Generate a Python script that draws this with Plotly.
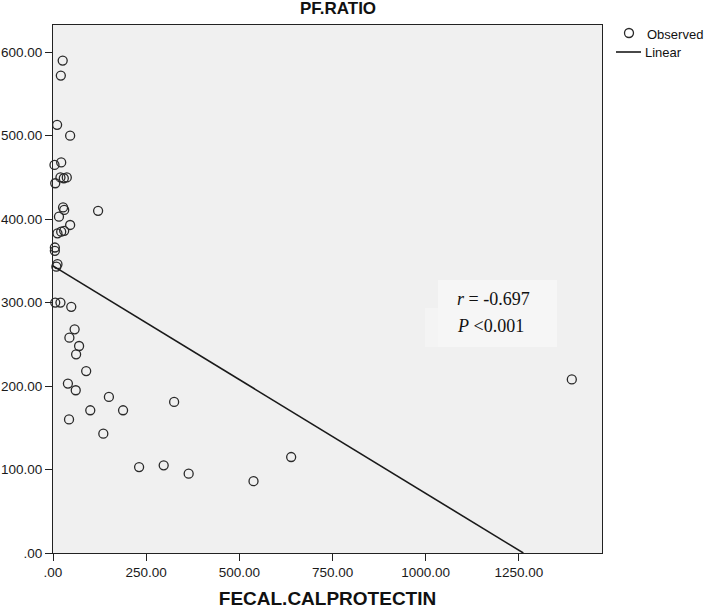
import plotly.graph_objects as go

# Observed points (FECAL.CALPROTECTIN, PF.RATIO)
calprotectin = [26, 21, 11, 46, 22, 4, 20, 29, 37, 6,
                27, 30, 121, 16, 46, 12, 22, 30, 5, 5,
                12, 9, 6, 20, 49, 58, 44, 70, 62, 89,
                40, 61, 150, 325, 100, 188, 43, 135, 231, 297,
                364, 538, 639, 1392]
pf_ratio = [590, 572, 513, 500, 468, 465, 450, 449, 450, 443,
            414, 411, 410, 403, 393, 383, 385, 386, 366, 362,
            346, 343, 300, 300, 295, 268, 258, 248, 238, 218,
            203, 195, 187, 181, 171, 171, 160, 143, 103, 105,
            95, 86, 115, 208]

# Linear fit coefficients as drawn
fit_intercept = 344.0
fit_slope = -0.2726

x_ticks = [0, 250, 500, 750, 1000, 1250]
x_ticklabels = [".00", "250.00", "500.00", "750.00", "1000.00", "1250.00"]
y_ticks = [0, 100, 200, 300, 400, 500, 600]
y_ticklabels = [".00", "100.00", "200.00", "300.00", "400.00", "500.00", "600.00"]

x_end = -fit_intercept / fit_slope
fit_x = [0, x_end]
fit_y = [fit_intercept + fit_slope * v for v in fit_x]

MARK = "#2a2a2a"
fig = go.Figure()
fig.add_trace(go.Scatter(
    x=calprotectin, y=pf_ratio, mode="markers", name="Observed",
    marker=dict(symbol="circle-open", size=9, color=MARK,
                line=dict(width=1.3, color=MARK)),
    cliponaxis=False, showlegend=False,
))
fig.add_trace(go.Scatter(
    x=fit_x, y=fit_y, mode="lines", name="Linear",
    line=dict(color="#1a1a1a", width=1.6), showlegend=False,
))

W, H = 708, 610
L, R, T, B = 53, 106, 25, 57
pw, ph = W - L - R, H - T - B

def px_x(p):
    return (p - L) / pw

def px_y(p):
    return (H - B - p) / ph

# lighter text box
fig.add_shape(type="rect", xref="paper", yref="paper",
              x0=px_x(438), x1=px_x(557), y0=px_y(347), y1=px_y(280),
              fillcolor="#f6f6f6", line=dict(width=0), layer="below")
fig.add_shape(type="rect", xref="paper", yref="paper",
              x0=px_x(425), x1=px_x(438), y0=px_y(347), y1=px_y(308),
              fillcolor="#f4f4f4", line=dict(width=0), layer="below")

serif = "Liberation Serif, Times New Roman, serif"
fig.add_annotation(xref="paper", yref="paper", x=px_x(455), y=px_y(299),
                   xanchor="left", yanchor="middle", showarrow=False,
                   text="<i>r</i> = -0.697", font=dict(family=serif, size=18, color="#111"))
fig.add_annotation(xref="paper", yref="paper", x=px_x(455), y=px_y(326),
                   xanchor="left", yanchor="middle", showarrow=False,
                   text="<i>P</i> &lt;0.001", font=dict(family=serif, size=18, color="#111"))

sans = "Liberation Sans, Arial, sans-serif"

# legend (drawn manually for exact placement)
fig.add_shape(type="circle", xref="paper", yref="paper",
              x0=px_x(624.5), x1=px_x(633.5), y0=px_y(37.5), y1=px_y(28.5),
              line=dict(color=MARK, width=1.3), fillcolor="rgba(0,0,0,0)")
fig.add_shape(type="line", xref="paper", yref="paper",
              x0=px_x(616), x1=px_x(641), y0=px_y(52), y1=px_y(52),
              line=dict(color="#1a1a1a", width=1.6))
fig.add_annotation(xref="paper", yref="paper", x=px_x(645), y=px_y(34),
                   xanchor="left", yanchor="middle", showarrow=False,
                   text="Observed", font=dict(family=sans, size=13, color="#111"))
fig.add_annotation(xref="paper", yref="paper", x=px_x(643), y=px_y(52),
                   xanchor="left", yanchor="middle", showarrow=False,
                   text="Linear", font=dict(family=sans, size=13, color="#111"))

fig.update_layout(
    width=W, height=H,
    margin=dict(l=L, r=R, t=T, b=B),
    paper_bgcolor="white", plot_bgcolor="#f0f0f0",
    font=dict(family=sans, size=13.5, color="#1a1a1a"),
    title=dict(text="<b>PF.RATIO</b>", x=338 / W, xanchor="center",
               y=1 - 2 / H, yanchor="top", yref="container", automargin=False,
               font=dict(family=sans, size=17, color="#111")),
    showlegend=False,
    xaxis=dict(range=[0, 1473], tickvals=x_ticks, ticktext=x_ticklabels,
               showgrid=False, zeroline=False, showline=True, linecolor="#222",
               linewidth=1, mirror=True, ticks="outside", ticklen=7, tickcolor="#222",
               automargin=False,
               title=dict(text="<b>FECAL.CALPROTECTIN</b>", standoff=12,
                          font=dict(family=sans, size=19, color="#111"))),
    yaxis=dict(range=[0, 632.6], tickvals=y_ticks, ticktext=y_ticklabels,
               showgrid=False, zeroline=False, showline=True, linecolor="#222",
               linewidth=1, mirror=True, ticks="outside", ticklen=7, tickcolor="#222",
               automargin=False),
)

fig.write_html("out.html", config={"displayModeBar": False},
               post_script="document.body.style.margin='0';document.body.style.padding='0';")
